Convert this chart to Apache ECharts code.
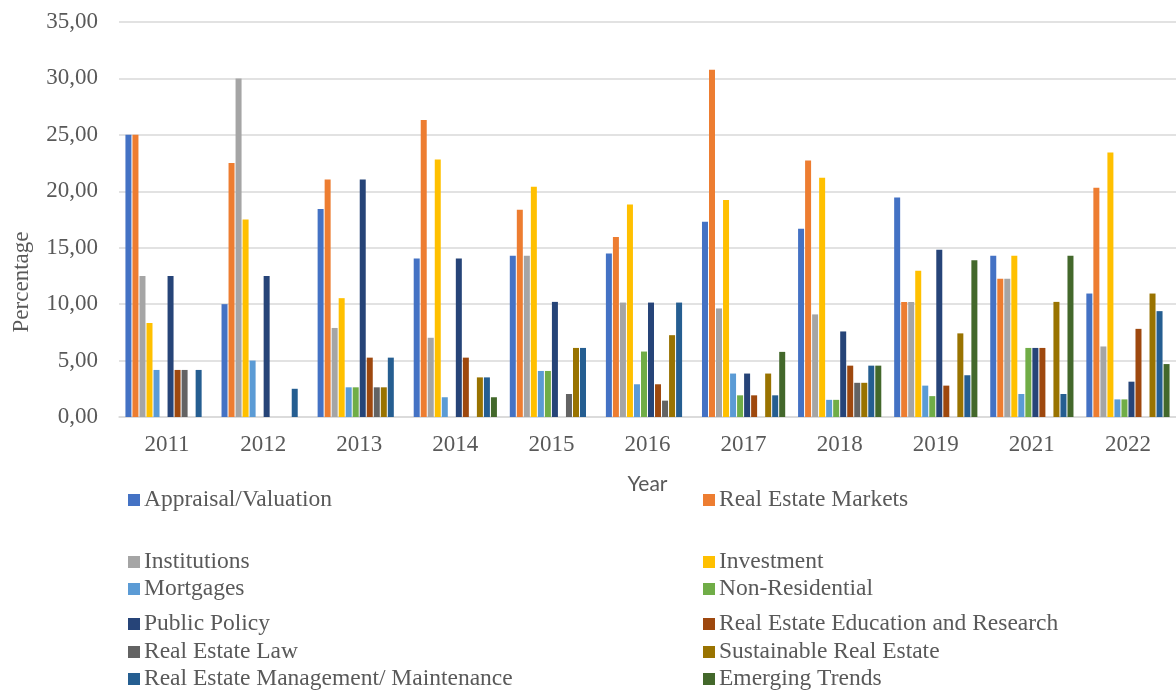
<!DOCTYPE html>
<html>
<head>
<meta charset="utf-8">
<title>Research topics by year</title>
<script src="https://cdn.jsdelivr.net/npm/echarts@6/dist/echarts.min.js"></script>
<style>
  html, body { margin: 0; padding: 0; background: #fff; }
  #chart { width: 1176px; height: 690px; }
</style>
</head>
<body>
<div id="chart"></div>
<script>
// years on the x axis (2020 is missing in the source)
const years = ['2011', '2012', '2013', '2014', '2015', '2016', '2017', '2018', '2019', '2021', '2022']
const yTicks = [0, 5, 10, 15, 20, 25, 30, 35]

// share of papers per topic, percent
const appraisal     = [25.00, 10.00, 18.42, 14.04, 14.29, 14.49, 17.31, 16.67, 19.44, 14.29, 10.94]
const markets       = [25.00, 22.50, 21.05, 26.32, 18.37, 15.94, 30.77, 22.73, 10.19, 12.24, 20.31]
const institutions  = [12.50, 30.00, 7.89, 7.02, 14.29, 10.14, 9.62, 9.09, 10.19, 12.24, 6.25]
const investment    = [8.33, 17.50, 10.53, 22.81, 20.41, 18.84, 19.23, 21.21, 12.96, 14.29, 23.44]
const mortgages     = [4.17, 5.00, 2.63, 1.75, 4.08, 2.90, 3.85, 1.52, 2.78, 2.04, 1.56]
const nonResidential = [0, 0, 2.63, 0, 4.08, 5.80, 1.92, 1.52, 1.85, 6.12, 1.56]
const publicPolicy  = [12.50, 12.50, 21.05, 14.04, 10.20, 10.14, 3.85, 7.58, 14.81, 6.12, 3.13]
const education     = [4.17, 0, 5.26, 5.26, 0, 2.90, 1.92, 4.55, 2.78, 6.12, 7.81]
const law           = [4.17, 0, 2.63, 0, 2.04, 1.45, 0, 3.03, 0, 0, 0]
const sustainable   = [0, 0, 2.63, 3.51, 6.12, 7.25, 3.85, 3.03, 7.41, 10.20, 10.94]
const management    = [4.17, 2.50, 5.26, 3.51, 6.12, 10.14, 1.92, 4.55, 3.70, 2.04, 9.38]
const emerging      = [0, 0, 0, 1.75, 0, 0, 5.77, 4.55, 13.89, 14.29, 4.69]

const topics = [
  { name: 'Appraisal/Valuation', values: appraisal, color: '#4472C4' },
  { name: 'Real Estate Markets', values: markets, color: '#ED7D31' },
  { name: 'Institutions', values: institutions, color: '#A5A5A5' },
  { name: 'Investment', values: investment, color: '#FFC000' },
  { name: 'Mortgages', values: mortgages, color: '#5B9BD5' },
  { name: 'Non-Residential', values: nonResidential, color: '#70AD47' },
  { name: 'Public Policy', values: publicPolicy, color: '#264478' },
  { name: 'Real Estate Education and Research', values: education, color: '#9E480E' },
  { name: 'Real Estate Law', values: law, color: '#636363' },
  { name: 'Sustainable Real Estate', values: sustainable, color: '#997300' },
  { name: 'Real Estate Management/ Maintenance', values: management, color: '#255E91' },
  { name: 'Emerging Trends', values: emerging, color: '#43682B' }
]

const SERIF = "'Liberation Serif', 'Times New Roman', serif"
const GREY = '#595959'

// legend sits in two columns with uneven row spacing, one legend box per item
const legendRows = [498, 560, 587, 622, 650, 677]
const legends = topics.map((t, i) => ({
  data: [t.name],
  left: i % 2 === 0 ? 128 : 703,
  top: legendRows[Math.floor(i / 2)] - 10,
  padding: 0,
  icon: 'rect',
  itemWidth: 12,
  itemHeight: 12,
  selectedMode: false,
  textStyle: { fontFamily: SERIF, fontSize: 23.5, color: GREY, padding: [0, 0, 0, -1] }
}))

const chart = echarts.init(document.getElementById('chart'), null, { renderer: 'canvas' })

chart.setOption({
  animation: false,
  legend: legends,
  grid: { left: 119, top: 22, width: 1064, height: 395, containLabel: false },
  graphic: [{
    type: 'text',
    x: 22, y: 282,
    rotation: Math.PI / 2,
    style: {
      text: 'Percentage',
      font: '23px ' + SERIF,
      fill: GREY,
      align: 'center',
      verticalAlign: 'middle'
    }
  }],
  xAxis: {
    type: 'category',
    data: years,
    name: 'Year',
    nameLocation: 'middle',
    nameGap: 57,
    nameTextStyle: { fontFamily: 'Lato, sans-serif', fontSize: 21, color: GREY },
    axisTick: { show: false },
    axisLine: { lineStyle: { color: '#d9d9d9', width: 1.5 } },
    axisLabel: { fontFamily: SERIF, fontSize: 23, color: GREY, margin: 16 }
  },
  yAxis: {
    type: 'value',
    min: yTicks[0],
    max: yTicks[yTicks.length - 1],
    interval: yTicks[1] - yTicks[0],
    axisLine: { show: false },
    axisTick: { show: false },
    splitLine: { lineStyle: { color: '#d9d9d9', width: 1.5 } },
    axisLabel: {
      fontFamily: SERIF, fontSize: 23, color: GREY, margin: 21,
      formatter: v => v.toFixed(2).replace('.', ',')
    }
  },
  series: topics.map(t => ({
    name: t.name,
    type: 'bar',
    data: t.values,
    barWidth: 6,
    barGap: '17%',
    itemStyle: { color: t.color }
  }))
})
</script>
</body>
</html>
